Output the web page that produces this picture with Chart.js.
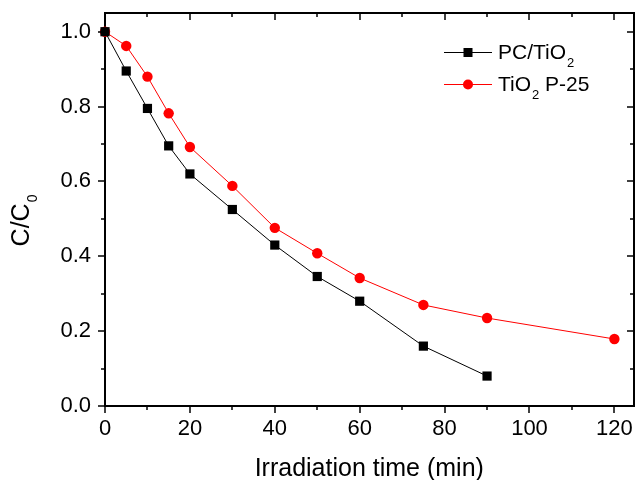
<!DOCTYPE html>
<html>
<head>
<meta charset="utf-8">
<script src="https://cdn.jsdelivr.net/npm/chart.js@4.4.1/dist/chart.umd.min.js"></script>
<style>
  html, body { margin: 0; padding: 0; background: #fff; }
  #wrap { width: 640px; height: 480px; }
</style>
</head>
<body>
<div id="wrap"><canvas id="chart" width="640" height="480"></canvas></div>
<script>
// irradiation times (min) and relative concentration C/C0
const timePC = [0, 5, 10, 15, 20, 30, 40, 50, 60, 75, 90];
const ratioPC = [1.0, 0.895, 0.795, 0.695, 0.62, 0.525, 0.43, 0.346, 0.28, 0.16, 0.08];

const timeP25 = [0, 5, 10, 15, 20, 30, 40, 50, 60, 75, 90, 120];
const ratioP25 = [1.0, 0.962, 0.88, 0.782, 0.692, 0.588, 0.476, 0.408, 0.342, 0.27, 0.235, 0.179];

const xTicks = [0, 10, 20, 30, 40, 50, 60, 70, 80, 90, 100, 110, 120];
const yTicks = [0, 0.1, 0.2, 0.3, 0.4, 0.5, 0.6, 0.7, 0.8, 0.9, 1.0];

const FONT = '"Liberation Sans", Arial, sans-serif';

const toPoints = (xs, ys) => xs.map((x, i) => ({ x: x, y: ys[i] }));

function line(ctx, x1, y1, x2, y2) {
    ctx.beginPath();
    ctx.moveTo(x1, y1);
    ctx.lineTo(x2, y2);
    ctx.stroke();
}

// empty mirror axis, only its border line is drawn
const mirrorAxis = (position, fit) => ({
    type: 'linear',
    position: position,
    min: 0,
    max: 1,
    afterFit: fit,
    grid: { display: false, drawTicks: false },
    border: { display: true, color: '#000', width: 2 },
    ticks: { display: false }
});

// mirrored ticks, y title with subscript, legend
const framePlugin = {
    id: 'frame',
    afterDraw(chart) {
        const ctx = chart.ctx;
        const a = chart.chartArea;
        const xs = chart.scales.x;
        const ys = chart.scales.y;
        const L = Math.round(a.left), R = Math.round(a.right);
        const T = Math.round(a.top), B = Math.round(a.bottom);
        ctx.save();
        ctx.strokeStyle = '#000';
        ctx.lineWidth = 1.5;
        xTicks.forEach(v => {
            const px = Math.round(xs.getPixelForValue(v));
            const len = v % 20 === 0 ? 7 : 4;
            line(ctx, px, B, px, B + len);
            line(ctx, px, T, px, T + len);
        });
        yTicks.forEach((v, i) => {
            const py = Math.round(ys.getPixelForValue(v));
            const len = i % 2 === 0 ? 7 : 4;
            line(ctx, L, py, L - len, py);
            line(ctx, R, py, R - len, py);
        });

        // y axis title C/C0
        ctx.fillStyle = '#000';
        ctx.translate(22, 221);
        ctx.rotate(-Math.PI / 2);
        ctx.textBaseline = 'middle';
        ctx.textAlign = 'left';
        const main = 'C/C';
        ctx.font = '25px ' + FONT;
        const w1 = ctx.measureText(main).width;
        ctx.font = '14px ' + FONT;
        const w2 = ctx.measureText('0').width;
        const sx = -(w1 + w2) / 2;
        ctx.font = '25px ' + FONT;
        ctx.fillText(main, sx, 0);
        ctx.font = '14px ' + FONT;
        ctx.fillText('0', sx + w1 + 1, 11);
        ctx.setTransform(1, 0, 0, 1, 0, 0);

        // legend
        const rows = [
            { parts: ['PC/TiO', '2', ''], color: '#000', style: 'rect', y: 52 },
            { parts: ['TiO', '2', ' P-25'], color: '#ff0000', style: 'circle', y: 84 }
        ];
        rows.forEach(r => {
            ctx.strokeStyle = r.color;
            ctx.fillStyle = r.color;
            ctx.lineWidth = 1;
            line(ctx, 444, r.y + 0.5, 492, r.y + 0.5);
            if (r.style === 'rect') {
                ctx.fillRect(463.5, r.y - 4, 9, 9);
            } else {
                ctx.beginPath();
                ctx.arc(468, r.y + 0.5, 5, 0, Math.PI * 2);
                ctx.fill();
            }
            ctx.fillStyle = '#000';
            let tx = 498;
            ctx.font = '21px ' + FONT;
            ctx.fillText(r.parts[0], tx, r.y + 1);
            tx += ctx.measureText(r.parts[0]).width + 1;
            ctx.font = '13px ' + FONT;
            ctx.fillText(r.parts[1], tx, r.y + 11);
            tx += ctx.measureText(r.parts[1]).width;
            ctx.font = '21px ' + FONT;
            if (r.parts[2]) ctx.fillText(r.parts[2], tx, r.y + 1);
        });
        ctx.restore();
    }
};

new Chart(document.getElementById('chart').getContext('2d'), {
    type: 'scatter',
    data: {
        datasets: [
            {
                label: 'PC/TiO2',
                data: toPoints(timePC, ratioPC),
                showLine: true,
                borderColor: '#000',
                backgroundColor: '#000',
                borderWidth: 1,
                pointStyle: 'rect',
                pointRadius: 6.5,
                pointHoverRadius: 6.5,
                pointBorderWidth: 0,
                clip: false
            },
            {
                label: 'TiO2 P-25',
                data: toPoints(timeP25, ratioP25),
                showLine: true,
                borderColor: '#ff0000',
                backgroundColor: '#ff0000',
                borderWidth: 1,
                pointStyle: 'circle',
                pointRadius: 5.2,
                pointHoverRadius: 5.2,
                pointBorderWidth: 0,
                clip: false
            }
        ]
    },
    options: {
        responsive: false,
        animation: false,
        layout: { padding: { left: 0, right: 2, top: 13, bottom: 0 } },
        plugins: {
            legend: { display: false },
            tooltip: { enabled: false }
        },
        scales: {
            x: {
                type: 'linear',
                min: 0,
                max: 124.5,
                afterFit: s => { s.height = 74; s.paddingLeft = 0; s.paddingRight = 0; },
                grid: { display: false, drawTicks: false },
                border: { display: true, color: '#000', width: 2 },
                ticks: {
                    stepSize: 10,
                    includeBounds: false,
                    autoSkip: false,
                    maxRotation: 0,
                    padding: 10,
                    color: '#000',
                    font: { family: FONT, size: 22 },
                    callback: v => (v % 20 === 0 ? String(v) : '')
                },
                title: {
                    display: true,
                    text: 'Irradiation time (min)',
                    color: '#000',
                    font: { family: FONT, size: 25, lineHeight: 1 },
                    padding: { top: 0, bottom: -2 }
                }
            },
            y: {
                type: 'linear',
                min: 0,
                max: 1.05,
                afterFit: s => { s.width = 105; s.paddingTop = 0; s.paddingBottom = 0; },
                grid: { display: false, drawTicks: false },
                border: { display: true, color: '#000', width: 2 },
                ticks: {
                    stepSize: 0.1,
                    includeBounds: false,
                    autoSkip: false,
                    padding: 14,
                    color: '#000',
                    font: { family: FONT, size: 22 },
                    callback: v => {
                        const k = Math.round(v * 10);
                        return Math.abs(v * 10 - k) < 1e-6 && k % 2 === 0 ? (k / 10).toFixed(1) : '';
                    }
                }
            },
            xTop: mirrorAxis('top', s => { s.height = 0; s.paddingLeft = 0; s.paddingRight = 0; }),
            yRight: mirrorAxis('right', s => { s.width = 0; s.paddingTop = 0; s.paddingBottom = 0; })
        }
    },
    plugins: [framePlugin]
});
</script>
</body>
</html>
